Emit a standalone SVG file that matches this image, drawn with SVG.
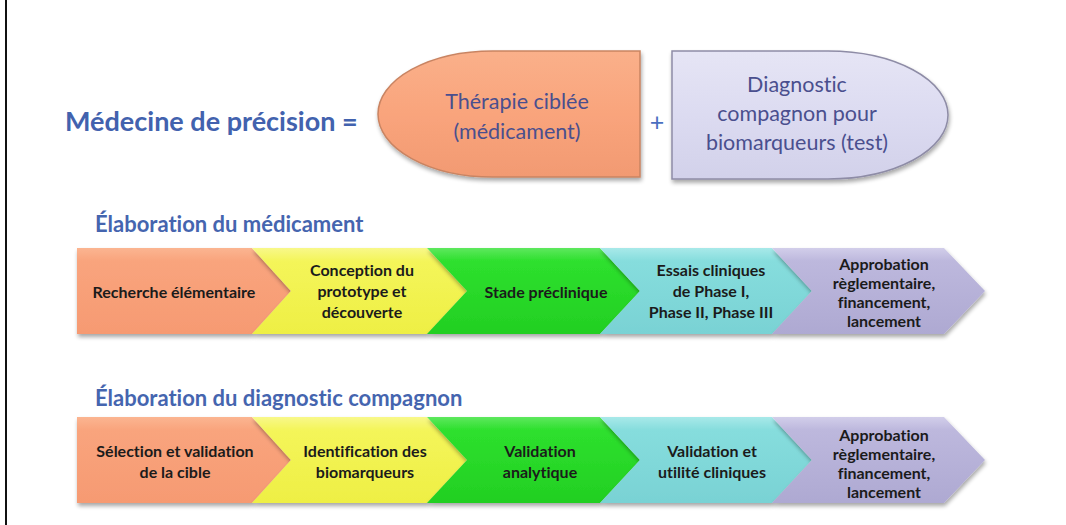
<svg xmlns="http://www.w3.org/2000/svg" width="1066" height="525" viewBox="0 0 1066 525">
<style>
text{font-variant-ligatures:none}
.title{font-family:Lato,"Liberation Sans",sans-serif;font-weight:bold;fill:#4262AE}
.cap{font-family:Lato,"Liberation Sans",sans-serif;font-size:21.5px;fill:#4A4F8E;text-anchor:middle}
.lbl{font-family:Lato,"Liberation Sans",sans-serif;font-weight:bold;font-size:16px;fill:#1B1B1B;text-anchor:middle}
.head{font-family:Lato,"Liberation Sans",sans-serif;font-weight:bold;font-size:22px;fill:#4565AF}
</style>
<defs>
<filter id="sh" x="-10%" y="-20%" width="120%" height="150%">
<feGaussianBlur in="SourceAlpha" stdDeviation="2"/>
<feOffset dx="1" dy="3" result="b"/>
<feComponentTransfer><feFuncA type="linear" slope="0.35"/></feComponentTransfer>
<feMerge><feMergeNode/><feMergeNode in="SourceGraphic"/></feMerge>
</filter>
<linearGradient id="gO" x1="0" y1="0" x2="0" y2="1"><stop offset="0" stop-color="#FBB591"/><stop offset="0.15" stop-color="#F9A47D"/><stop offset="1" stop-color="#F69A72"/></linearGradient>
<linearGradient id="gY" x1="0" y1="0" x2="0" y2="1"><stop offset="0" stop-color="#F8F88A"/><stop offset="0.15" stop-color="#F4F55A"/><stop offset="1" stop-color="#EEEF44"/></linearGradient>
<linearGradient id="gG" x1="0" y1="0" x2="0" y2="1"><stop offset="0" stop-color="#5EE85E"/><stop offset="0.15" stop-color="#2EE02E"/><stop offset="1" stop-color="#22CF22"/></linearGradient>
<linearGradient id="gC" x1="0" y1="0" x2="0" y2="1"><stop offset="0" stop-color="#A8E9E9"/><stop offset="0.15" stop-color="#86DDDD"/><stop offset="1" stop-color="#79D2D4"/></linearGradient>
<linearGradient id="gP" x1="0" y1="0" x2="0" y2="1"><stop offset="0" stop-color="#D2CEEA"/><stop offset="0.15" stop-color="#BDB8DD"/><stop offset="1" stop-color="#AEA9D2"/></linearGradient>
<linearGradient id="gCO" x1="0" y1="0" x2="0" y2="1"><stop offset="0" stop-color="#FAB08A"/><stop offset="0.5" stop-color="#F9A47C"/><stop offset="1" stop-color="#F29A72"/></linearGradient>
<linearGradient id="gCP" x1="0" y1="0" x2="0" y2="1"><stop offset="0" stop-color="#E6E5F5"/><stop offset="0.5" stop-color="#DCDBF1"/><stop offset="1" stop-color="#D2D1EA"/></linearGradient>
</defs>
<rect x="0" y="0" width="1066" height="525" fill="#FFFFFF"/>
<line x1="6" y1="0" x2="6" y2="525" stroke="#111" stroke-width="2"/>

<g id="title">
<text class="title" x="65" y="131" font-size="27">Médecine de précision =</text>
</g>

<g id="therapie">
<path d="M640,51 L493,51 A115,63 0 0 0 493,177 L640,177 Z" fill="url(#gCO)" stroke="#C98462" stroke-width="1.5" filter="url(#sh)"/>
<text class="cap" x="517" y="109">Thérapie ciblée</text>
<text class="cap" x="517" y="139">(médicament)</text>
</g>

<g id="plus">
<text x="657" y="131" font-family="Lato,'Liberation Sans',sans-serif" font-size="25" fill="#4A6FC0" text-anchor="middle">+</text>
</g>

<g id="diagnostic">
<path d="M672,51 L828,51 A120,64 0 0 1 828,179 L672,179 Z" fill="url(#gCP)" stroke="#8E8CA6" stroke-width="1.5" filter="url(#sh)"/>
<text class="cap" x="797" y="92">Diagnostic</text>
<text class="cap" x="797" y="121">compagnon pour</text>
<text class="cap" x="797" y="150">biomarqueurs (test)</text>
</g>

<g id="heading1"><text class="head" x="95" y="232">Élaboration du médicament</text></g>

<g id="r1s1">
<path d="M77,248 L252,248 L291,291 L252,334 L77,334 Z" fill="url(#gO)" filter="url(#sh)"/>
<text class="lbl" x="174" y="298">Recherche élémentaire</text>
</g>
<g id="r1s2">
<path d="M252,248 L427,248 L467,291 L427,334 L252,334 L291,291 Z" fill="url(#gY)" filter="url(#sh)"/>
<text class="lbl" x="362" y="276">Conception du</text>
<text class="lbl" x="362" y="297">prototype et</text>
<text class="lbl" x="362" y="318">découverte</text>
</g>
<g id="r1s3">
<path d="M427,248 L600,248 L640,291 L600,334 L427,334 L467,291 Z" fill="url(#gG)" filter="url(#sh)"/>
<text class="lbl" x="546" y="298">Stade préclinique</text>
</g>
<g id="r1s4">
<path d="M600,248 L772,248 L812,291 L772,334 L600,334 L640,291 Z" fill="url(#gC)" filter="url(#sh)"/>
<text class="lbl" x="711" y="276">Essais cliniques</text>
<text class="lbl" x="711" y="297">de Phase I,</text>
<text class="lbl" x="711" y="318">Phase II, Phase III</text>
</g>
<g id="r1s5">
<path d="M772,248 L944,248 L985,291 L944,334 L772,334 L812,291 Z" fill="url(#gP)" filter="url(#sh)"/>
<text class="lbl" x="884" y="270">Approbation</text>
<text class="lbl" x="884" y="289">règlementaire,</text>
<text class="lbl" x="884" y="308">financement,</text>
<text class="lbl" x="884" y="327">lancement</text>
</g>

<g id="heading2"><text class="head" x="95" y="406">Élaboration du diagnostic compagnon</text></g>

<g id="r2s1">
<path d="M77,417 L252,417 L291,460 L252,503 L77,503 Z" fill="url(#gO)" filter="url(#sh)"/>
<text class="lbl" x="175" y="457">Sélection et validation</text>
<text class="lbl" x="175" y="478">de la cible</text>
</g>
<g id="r2s2">
<path d="M252,417 L427,417 L467,460 L427,503 L252,503 L291,460 Z" fill="url(#gY)" filter="url(#sh)"/>
<text class="lbl" x="365" y="457">Identification des</text>
<text class="lbl" x="365" y="478">biomarqueurs</text>
</g>
<g id="r2s3">
<path d="M427,417 L600,417 L640,460 L600,503 L427,503 L467,460 Z" fill="url(#gG)" filter="url(#sh)"/>
<text class="lbl" x="540" y="457">Validation</text>
<text class="lbl" x="540" y="478">analytique</text>
</g>
<g id="r2s4">
<path d="M600,417 L772,417 L812,460 L772,503 L600,503 L640,460 Z" fill="url(#gC)" filter="url(#sh)"/>
<text class="lbl" x="712" y="457">Validation et</text>
<text class="lbl" x="712" y="478">utilité cliniques</text>
</g>
<g id="r2s5">
<path d="M772,417 L944,417 L985,460 L944,503 L772,503 L812,460 Z" fill="url(#gP)" filter="url(#sh)"/>
<text class="lbl" x="884" y="441">Approbation</text>
<text class="lbl" x="884" y="460">règlementaire,</text>
<text class="lbl" x="884" y="479">financement,</text>
<text class="lbl" x="884" y="498">lancement</text>
</g>
</svg>
